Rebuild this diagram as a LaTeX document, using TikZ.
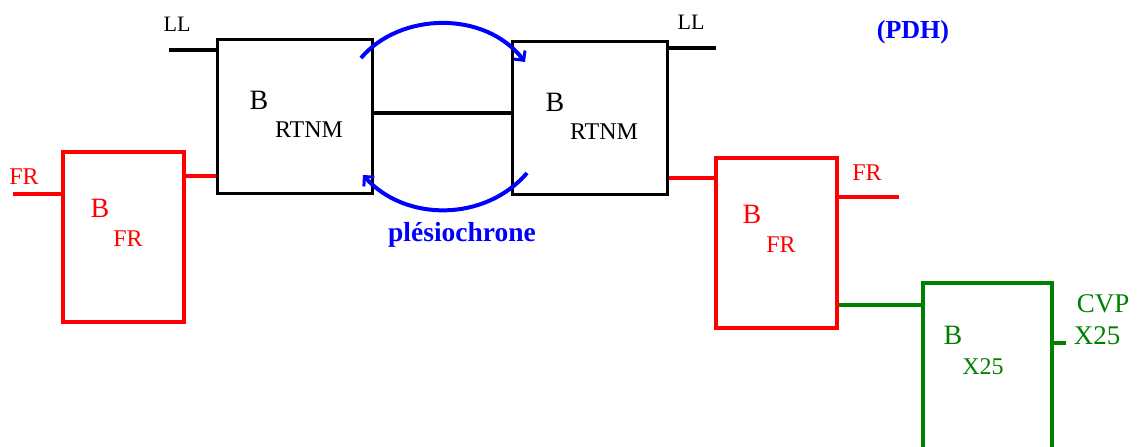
\documentclass[tikz,border=0pt]{standalone}
\usepackage{fontspec}
\setmainfont{Liberation Serif}
\usetikzlibrary{arrows.meta}
\definecolor{pdhblue}{RGB}{0,0,255}
\definecolor{frred}{RGB}{255,0,0}
\definecolor{xgreen}{RGB}{0,128,0}
\tikzset{
  blk/.style={draw=black, line width=3pt, rectangle, inner sep=0pt},
  redbox/.style={draw=frred, line width=4pt, rectangle, inner sep=0pt},
  grnbox/.style={draw=xgreen, line width=4pt, rectangle, inner sep=0pt},
  blkline/.style={draw=black, line width=3.5pt},
  redline/.style={draw=frred, line width=4pt},
  grnline/.style={draw=xgreen, line width=4pt},
  arc/.style={draw=pdhblue, line width=4pt, -{Straight Barb[length=7pt,width=14pt,line width=3pt]}},
  lbl/.style={anchor=base, inner sep=0pt, font=\fontsize{#1}{#1}\selectfont},
  lbl/.default=24,
}
\begin{document}
\begin{tikzpicture}[x=1pt,y=-1pt]
\useasboundingbox (0,0) rectangle (1138,447);
\clip (0,0) rectangle (1138,447);
% boxes
\node[blk, minimum width=155pt, minimum height=154pt] (rtL) at (294.5,116) {};
\node[blk, minimum width=155pt, minimum height=153pt] (rtR) at (589.5,117.5) {};
\node[redbox, minimum width=121pt, minimum height=170pt] (frL) at (123.5,237) {};
\node[redbox, minimum width=121pt, minimum height=170pt] (frR) at (776.5,243) {};
\node[grnbox, minimum width=129pt, minimum height=200pt] (x25) at (987.5,383) {};
% free ends
\coordinate (llLend) at (169,50);
\coordinate (llRend) at (716,48);
\coordinate (frLend) at (13,194);
\coordinate (frRend) at (899,197);
\coordinate (cvpend) at (1066,343);
% connectors
\draw[blkline] (llLend) -- (llLend -| rtL.west);
\draw[blkline] (rtR.east |- llRend) -- (llRend);
\draw[blkline] (rtL.east |- 0,113) -- (rtR.west |- 0,113);
\draw[redline] (frLend) -- (frLend -| frL.west);
\draw[redline] (frL.east |- 0,176) -- (rtL.west |- 0,176);
\draw[redline] (rtR.east |- 0,178) -- (frR.west |- 0,178);
\draw[redline] (frR.east |- frRend) -- (frRend);
\draw[grnline] (frR.east |- 0,305) -- (x25.west |- 0,305);
\draw[grnline] (x25.east |- cvpend) -- (cvpend);
% blue arcs
\coordinate (a1s) at (361,58);
\coordinate (a1e) at (525,62);
\coordinate (a2s) at (527,173);
\coordinate (a2e) at (363,175);
\draw[arc] (a1s) .. controls (400,12) and (485,10) .. (a1e);
\draw[arc] (a2s) .. controls (485,222) and (405,222) .. (a2e);
% labels
\node[lbl=22] (tLL1) at (177,31) {LL};
\node[lbl=22] (tLL2) at (691,29) {LL};
\node[lbl=28] (tB1) at (259,109) {B};
\node[lbl=24] (tR1) at (309,137) {RTNM};
\node[lbl=28] (tB2) at (555,111) {B};
\node[lbl=24] (tR2) at (604,139) {RTNM};
\begin{scope}[text=frred]
\node[lbl=24] (tFR1) at (24,184) {FR};
\node[lbl=28] (tB3) at (100,217) {B};
\node[lbl=24] (tF3) at (128,246) {FR};
\node[lbl=24] (tFR2) at (867,180) {FR};
\node[lbl=28] (tB4) at (752,223) {B};
\node[lbl=24] (tF4) at (781,252) {FR};
\end{scope}
\begin{scope}[text=xgreen]
\node[lbl=28] (tB5) at (953,344) {B};
\node[lbl=24] (tX5) at (983,374) {X25};
\node[lbl=27] (tCVP) at (1103,312) {CVP};
\node[lbl=27] (tX25) at (1097,344) {X25};
\end{scope}
\node[lbl=26, text=pdhblue] (tPDH) at (913,38) {\bfseries (PDH)};
\node[lbl=27.5, text=pdhblue] (tplesio) at (462,241) {\bfseries plésiochrone};
\end{tikzpicture}
\end{document}
